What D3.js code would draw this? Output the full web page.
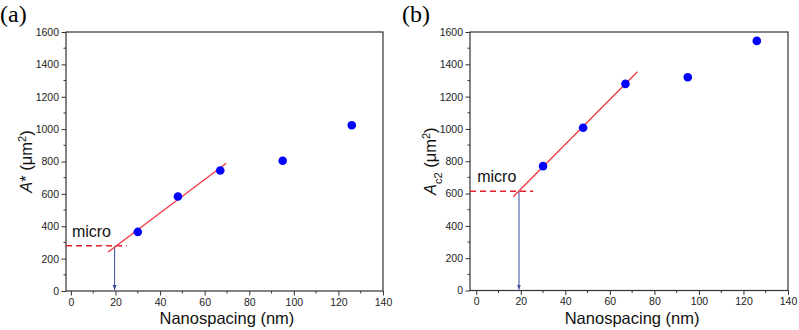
<!DOCTYPE html>
<html>
<head>
<meta charset="utf-8">
<script src="https://cdn.jsdelivr.net/npm/d3@7"></script>
<style>
  body { margin: 0; background: #fff; }
  svg { font-family: "Liberation Sans", Arial, sans-serif; }
  .tick text { fill: #222; font-size: 10.5px; }
</style>
</head>
<body>
<div class="chart"></div>
<script>
var svgWidth = 799;
var svgHeight = 330;

// data
var nanospacing = [30, 48, 67, 95, 126];
var aStar = [365, 584, 744, 805, 1024];
var ac2 = [770, 1007, 1279, 1320, 1545];

// linear fits drawn over the first three points
var fitAx = [16.7, 69.7], fitAy = [241, 789];
var fitBx = [16.6, 72.4], fitBy = [580, 1354];

// "micro" crossing level and arrow position
var microA = {level: 279, dashEnd: 25, arrowX: 19.6};
var microB = {level: 615, dashEnd: 25.6, arrowX: 19.2};

var xTicks = [0, 20, 40, 60, 80, 100, 120, 140];
var yTicks = [0, 200, 400, 600, 800, 1000, 1200, 1400, 1600];

var svg = d3.select(".chart")
  .append("svg")
  .attr("width", svgWidth)
  .attr("height", svgHeight);

svg.append("defs").append("marker")
  .attr("id", "arrowhead")
  .attr("viewBox", "0 0 10 10")
  .attr("refX", 10)
  .attr("refY", 5)
  .attr("markerWidth", 5)
  .attr("markerHeight", 5)
  .attr("orient", "auto")
  .append("path")
  .attr("d", "M0,1 L10,5 L0,9 Z")
  .attr("fill", "#3a4a9e");

function drawPanel(opt) {
  var x = d3.scaleLinear().domain(opt.xDomain).range([opt.left, opt.right]);
  var y = d3.scaleLinear().domain([0, 1600]).range([opt.bottom, opt.top]);
  var g = svg.append("g");

  // minor ticks
  var xMinor = d3.range(10, 140, 20);
  var yMinor = d3.range(100, 1600, 200);
  g.selectAll(".xminor").data(xMinor).enter().append("line")
    .attr("x1", d => x(d)).attr("x2", d => x(d))
    .attr("y1", opt.bottom).attr("y2", opt.bottom + 2.5)
    .attr("stroke", "#333").attr("stroke-width", 1);
  g.selectAll(".yminor").data(yMinor).enter().append("line")
    .attr("y1", d => y(d)).attr("y2", d => y(d))
    .attr("x1", opt.left).attr("x2", opt.left - 2.5)
    .attr("stroke", "#333").attr("stroke-width", 1);

  var bottomAxis = d3.axisBottom(x).tickValues(xTicks).tickFormat(d3.format("d")).tickSize(4.5).tickPadding(3);
  var leftAxis = d3.axisLeft(y).tickValues(yTicks).tickFormat(d3.format("d")).tickSize(4.5).tickPadding(2.5);

  var xa = g.append("g")
    .attr("transform", `translate(0, ${opt.bottom})`)
    .call(bottomAxis);
  var ya = g.append("g")
    .attr("transform", `translate(${opt.left}, 0)`)
    .call(leftAxis);
  [xa, ya].forEach(function(a) {
    a.select(".domain").remove();
    a.selectAll(".tick line").attr("stroke", "#333");
    a.attr("font-family", null).attr("font-size", null);
  });

  // frame
  g.append("rect")
    .attr("x", opt.left).attr("y", opt.top)
    .attr("width", opt.right - opt.left)
    .attr("height", opt.bottom - opt.top)
    .attr("fill", "none")
    .attr("stroke", "#333")
    .attr("stroke-width", 1.2);

  // dashed micro level
  g.append("line")
    .attr("x1", opt.left).attr("x2", x(opt.micro.dashEnd))
    .attr("y1", y(opt.micro.level)).attr("y2", y(opt.micro.level))
    .attr("stroke", "#e8202a")
    .attr("stroke-width", 1.5)
    .attr("stroke-dasharray", "6,4");

  // arrow down to x axis
  g.append("line")
    .attr("x1", x(opt.micro.arrowX)).attr("x2", x(opt.micro.arrowX))
    .attr("y1", y(opt.micro.level)).attr("y2", y(0) - 1)
    .attr("stroke", "#3a4a9e")
    .attr("stroke-width", 1)
    .attr("marker-end", "url(#arrowhead)");

  // fit line
  g.append("line")
    .attr("x1", x(opt.fitX[0])).attr("y1", y(opt.fitY[0]))
    .attr("x2", x(opt.fitX[1])).attr("y2", y(opt.fitY[1]))
    .attr("stroke", "#f0303a")
    .attr("stroke-width", 1.2);

  g.selectAll("circle")
    .data(nanospacing)
    .enter()
    .append("circle")
    .attr("cx", d => x(d))
    .attr("cy", (d, i) => y(opt.values[i]))
    .attr("r", 4.3)
    .attr("fill", "#0000ff");

  g.append("text")
    .attr("x", x(0) + 1)
    .attr("y", y(opt.micro.level) - 9)
    .attr("font-size", "16px")
    .attr("fill", "#111")
    .text("micro");

  // axis titles
  g.append("text")
    .attr("x", x(70))
    .attr("y", 324)
    .attr("text-anchor", "middle")
    .attr("font-size", "16.5px")
    .attr("fill", "#111")
    .text("Nanospacing (nm)");

  var yl = g.append("text")
    .attr("transform", `translate(${opt.left - 34}, ${(opt.top + opt.bottom) / 2}) rotate(-90)`)
    .attr("text-anchor", "middle")
    .attr("font-size", "16.5px")
    .attr("fill", "#111");
  opt.yLabel(yl);

  g.append("text")
    .attr("x", opt.tagX)
    .attr("y", 22)
    .attr("font-family", "'Liberation Serif', 'Times New Roman', serif")
    .attr("font-size", "24px")
    .attr("fill", "#000")
    .text(opt.tag);
}

drawPanel({
  left: 66, right: 383, top: 32, bottom: 291,
  xDomain: [-2.2, 140],
  values: aStar,
  fitX: fitAx, fitY: fitAy,
  micro: microA,
  tag: "(a)", tagX: 0,
  yLabel: function(t) {
    t.append("tspan").attr("font-style", "italic").text("A");
    t.append("tspan").text("* (μm");
    t.append("tspan").attr("baseline-shift", "super").attr("font-size", "11px").text("2");
    t.append("tspan").text(")");
  }
});

drawPanel({
  left: 470, right: 788, top: 32, bottom: 290.5,
  xDomain: [-2.8, 140],
  values: ac2,
  fitX: fitBx, fitY: fitBy,
  micro: microB,
  tag: "(b)", tagX: 402,
  yLabel: function(t) {
    t.append("tspan").attr("font-style", "italic").text("A");
    t.append("tspan").attr("baseline-shift", "sub").attr("font-size", "11px").text("c2");
    t.append("tspan").text(" (μm");
    t.append("tspan").attr("baseline-shift", "super").attr("font-size", "11px").text("2");
    t.append("tspan").text(")");
  }
});
</script>
</body>
</html>
